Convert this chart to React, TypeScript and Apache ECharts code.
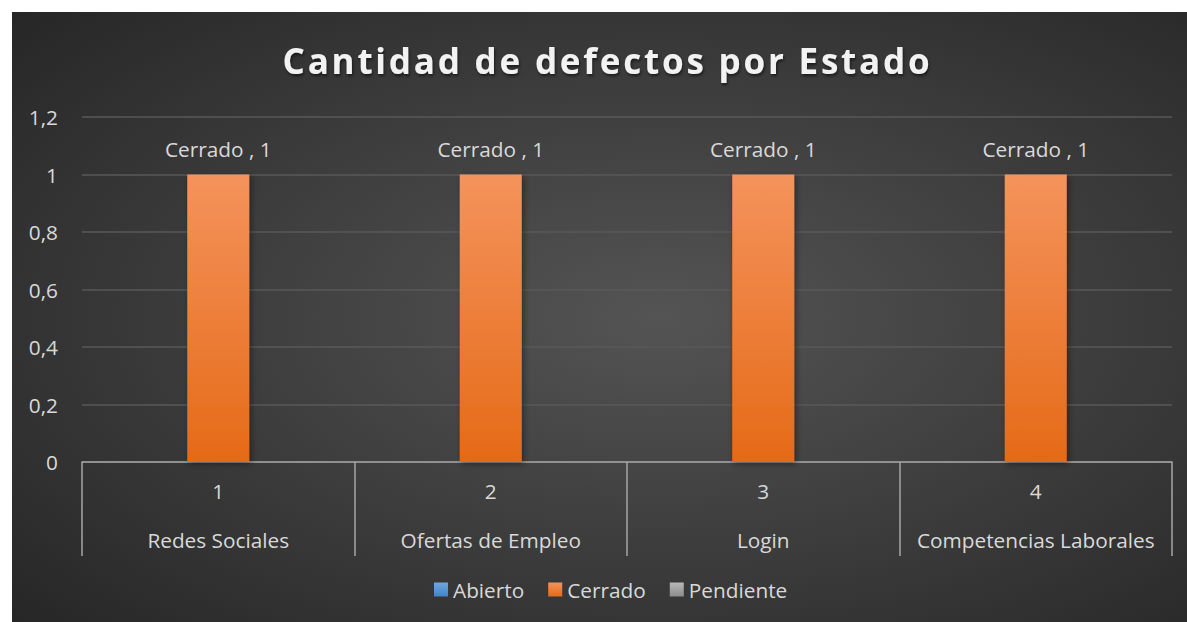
import React, { useEffect, useRef } from "react";
import * as echarts from "echarts";

const titleText = "Cantidad de defectos por Estado";
const categories = ["Redes Sociales", "Ofertas de Empleo", "Login", "Competencias Laborales"];
const categoryNumbers = ["1", "2", "3", "4"];
const seriesNames = ["Abierto", "Cerrado", "Pendiente"];
const abierto: (number | null)[] = [null, null, null, null];
const cerrado: (number | null)[] = [1, 1, 1, 1];
const pendiente: (number | null)[] = [null, null, null, null];
const yTicks = [0, 0.2, 0.4, 0.6, 0.8, 1, 1.2];

const FONT = "'Open Sans', 'Noto Sans', sans-serif";
const FS = 20.8;

export default function App() {
  const ref = useRef<HTMLDivElement>(null);
  useEffect(() => {
    if (!ref.current) return;
    const chart = echarts.init(ref.current, undefined, { renderer: "svg" });
    const grad = (top: string, bottom: string) =>
      new echarts.graphic.LinearGradient(0, 0, 0, 1, [
        { offset: 0, color: top },
        { offset: 1, color: bottom },
      ]);
    const colors = [
      grad("#6FA8DC", "#3F85CA"),
      grad("#F4935C", "#E56A17"),
      grad("#B8B8B8", "#8C8C8C"),
    ];
    const datasets = [abierto, cerrado, pendiente];
    chart.setOption({
      animation: false,
      backgroundColor: {
        type: "radial",
        x: 0.55,
        y: 0.5,
        r: 0.75,
        colorStops: [
          { offset: 0, color: "#545454" },
          { offset: 1, color: "#262626" },
        ],
      },
      graphic: [
        {
          type: "text",
          x: 595.5,
          y: 48,
          style: {
            text: titleText,
            fill: "#F2F2F2",
            font: `bold 35px ${FONT}`,
            textAlign: "center",
            textVerticalAlign: "middle",
            textShadowColor: "rgba(0,0,0,0.55)",
            textShadowBlur: 3,
            textShadowOffsetX: 1,
            textShadowOffsetY: 2,
          },
        },
      ],
      legend: {
        bottom: 17,
        left: 417,
        data: seriesNames,
        icon: "rect",
        itemWidth: 14,
        itemHeight: 14,
        itemGap: 24,
        textStyle: { color: "#D9D9D9", fontFamily: FONT, fontSize: FS },
      },
      grid: { left: 70, right: 15, top: 105, bottom: 160, containLabel: false },
      xAxis: {
        type: "category",
        data: categories,
        axisLine: { lineStyle: { color: "#A6A6A6", width: 1.5 } },
        axisTick: { show: true, length: 94, lineStyle: { color: "#A6A6A6", width: 1.5 } },
        axisLabel: {
          interval: 0,
          margin: 5,
          formatter: (v: string, i: number) => `{n|${categoryNumbers[i]}}\n{c|${v}}`,
          rich: {
            n: { color: "#D9D9D9", fontFamily: FONT, fontSize: FS, lineHeight: 48.5 },
            c: { color: "#D9D9D9", fontFamily: FONT, fontSize: FS, lineHeight: 48.5 },
          },
        },
      },
      yAxis: {
        type: "value",
        min: 0,
        max: 1.2,
        interval: 0.2,
        axisLine: { show: false },
        axisTick: { show: false },
        splitLine: { lineStyle: { color: "#595959", width: 1.5 } },
        axisLabel: {
          color: "#D9D9D9",
          fontFamily: FONT,
          fontSize: FS,
          margin: 24,
          formatter: (v: number) => {
            const t = yTicks.find((x) => Math.abs(x - v) < 1e-6);
            return String(t !== undefined ? t : v).replace(".", ",");
          },
        },
      },
      series: seriesNames.map((name, si) => ({
        name,
        type: "bar",
        data: datasets[si],
        barWidth: 62,
        barGap: "-100%",
        itemStyle: {
          color: colors[si],
          shadowColor: "rgba(0,0,0,0.4)",
          shadowBlur: 6,
          shadowOffsetX: 2,
          shadowOffsetY: 2,
        },
        label: {
          show: true,
          position: "top",
          distance: 15,
          color: "#D9D9D9",
          fontFamily: FONT,
          fontSize: FS,
          formatter: (p: any) => `${p.seriesName} , ${p.value}`,
        },
      })),
    });
    const applySpacing = () => {
      ref.current?.querySelectorAll("text").forEach((t) => {
        if (t.textContent === titleText) t.setAttribute("letter-spacing", "2.8");
      });
    };
    applySpacing();
    chart.on("finished", applySpacing);
    return () => chart.dispose();
  }, []);
  return (
    <div
      ref={ref}
      style={{ position: "absolute", left: 12, top: 12, width: 1175, height: 610 }}
    />
  );
}
